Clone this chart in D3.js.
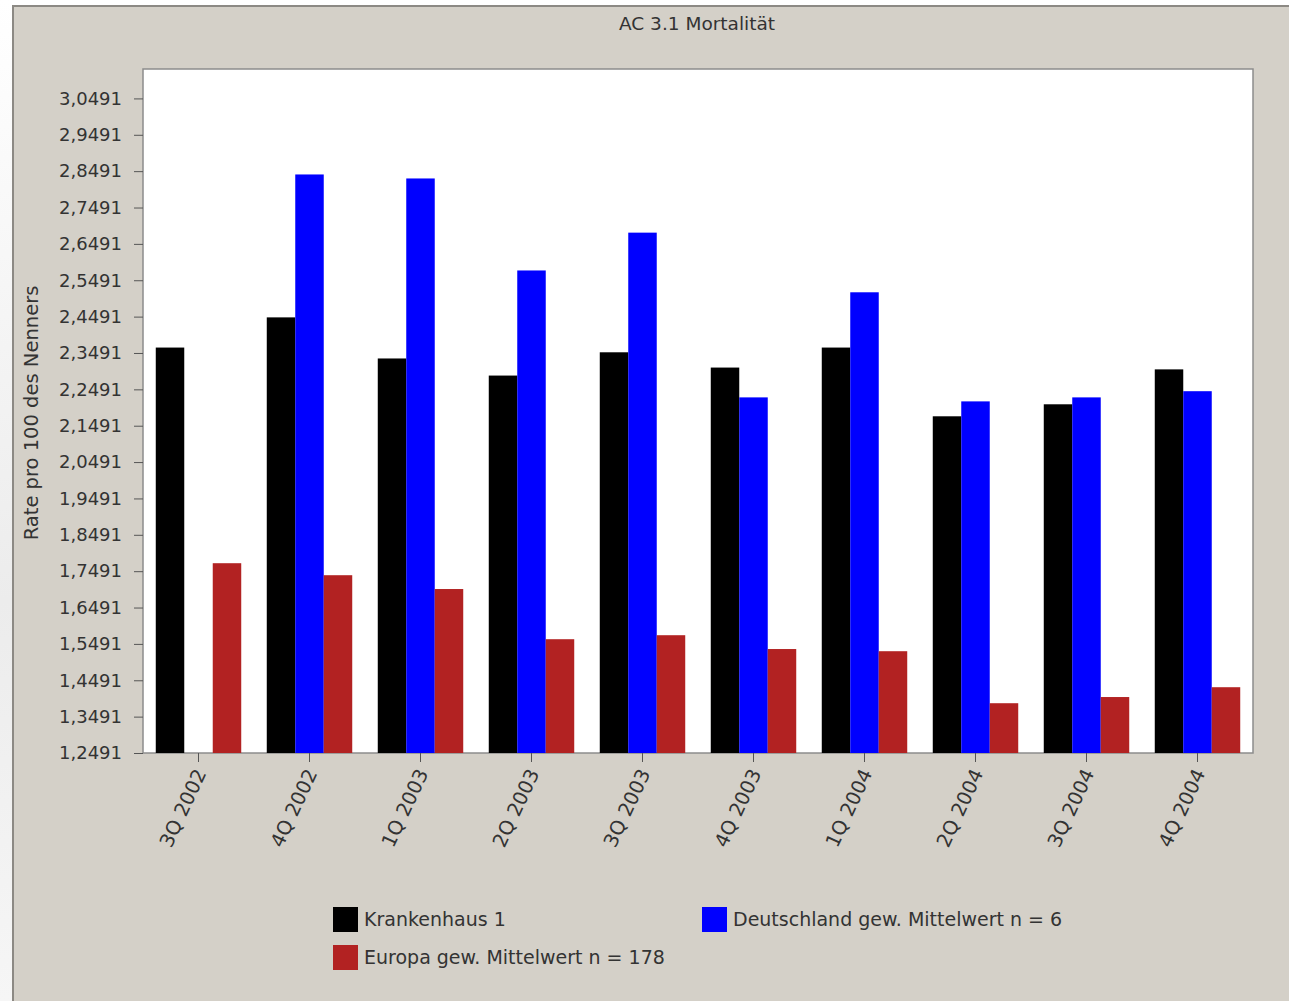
<!DOCTYPE html>
<html>
<head>
<meta charset="utf-8">
<script src="https://cdn.jsdelivr.net/npm/d3@7"></script>
<style>
  body { margin: 0; background: #fff; overflow: hidden; }
  svg { display: block; font-family: "DejaVu Sans", sans-serif; }
</style>
</head>
<body>
<svg id="chart" width="1289" height="1001"></svg>
<script>
// Quarters on the x axis
const quarters = ['3Q 2002', '4Q 2002', '1Q 2003', '2Q 2003', '3Q 2003',
                  '4Q 2003', '1Q 2004', '2Q 2004', '3Q 2004', '4Q 2004'];

// Series values (rate per 100)
const krankenhaus = [2.364, 2.447, 2.334, 2.287, 2.351, 2.309, 2.364, 2.175, 2.208, 2.304];
const deutschland = [null, 2.840, 2.829, 2.576, 2.680, 2.227, 2.516, 2.216, 2.227, 2.244];
const europa      = [1.771, 1.738, 1.700, 1.562, 1.573, 1.535, 1.529, 1.386, 1.403, 1.430];

const seriesNames = ['Krankenhaus 1', 'Deutschland gew. Mittelwert n = 6', 'Europa gew. Mittelwert n = 178'];
const seriesColors = ['#000000', '#0000ff', '#b22222'];

// y tick labels
const yTicks = [1.2491, 1.3491, 1.4491, 1.5491, 1.6491, 1.7491, 1.8491, 1.9491, 2.0491,
                2.1491, 2.2491, 2.3491, 2.4491, 2.5491, 2.6491, 2.7491, 2.8491, 2.9491, 3.0491];

const svg = d3.select('#chart');
const textColor = '#333';

// page strip on the left
const defs = svg.append('defs');
const grad = defs.append('linearGradient').attr('id', 'strip')
    .attr('x1', 0).attr('y1', 0).attr('x2', 0).attr('y2', 1);
grad.append('stop').attr('offset', '0%').attr('stop-color', '#ffffff');
grad.append('stop').attr('offset', '60%').attr('stop-color', '#ececec');
grad.append('stop').attr('offset', '100%').attr('stop-color', '#f6f6f6');
svg.append('rect').attr('x', 0).attr('y', 0).attr('width', 13).attr('height', 1001)
    .attr('fill', 'url(#strip)');

// gray panel
svg.append('rect')
    .attr('x', 13).attr('y', 6).attr('width', 1290).attr('height', 1010)
    .attr('fill', '#d4d0c8')
    .attr('stroke', '#8c8984').attr('stroke-width', 2);

const margin = { top: 69, right: 36, bottom: 248, left: 143 };
const width = 1289 - margin.left - margin.right;
const height = 1001 - margin.top - margin.bottom;

const g = svg.append('g').attr('transform', `translate(${margin.left},${margin.top})`);

// plot area
g.append('rect').attr('width', width).attr('height', height)
    .attr('fill', '#fff').attr('stroke', '#8c8c8c').attr('stroke-width', 1.5);

const x0 = d3.scaleBand().domain(quarters).range([0, width]).paddingInner(0.23).paddingOuter(0.115);
const x1 = d3.scaleBand().domain(d3.range(3)).range([0, x0.bandwidth()]);
const y = d3.scaleLinear().domain([1.2491, 3.13]).range([height, 0]);

const seriesData = [krankenhaus, deutschland, europa];

const groups = g.selectAll('.grp').data(quarters).enter().append('g')
    .attr('transform', d => `translate(${x0(d)},0)`);

groups.selectAll('rect')
    .data((q, i) => seriesData.map((s, k) => ({ k, v: s[i] })).filter(d => d.v != null))
    .enter().append('rect')
    .attr('x', d => x1(d.k))
    .attr('y', d => y(d.v))
    .attr('width', x1.bandwidth())
    .attr('height', d => height - y(d.v))
    .attr('fill', d => seriesColors[d.k]);

// y axis
const yAxis = g.append('g')
    .call(d3.axisLeft(y).tickValues(yTicks).tickSize(9).tickPadding(12)
        .tickFormat(d => d.toFixed(4).replace('.', ',')));
yAxis.select('.domain').remove();
yAxis.selectAll('line').attr('stroke', '#555');
yAxis.selectAll('text').attr('font-size', 18).attr('fill', textColor)
    .attr('font-family', '"DejaVu Sans", sans-serif');

// x axis
const xAxis = g.append('g').attr('transform', `translate(0,${height})`)
    .call(d3.axisBottom(x0).tickSize(9));
xAxis.select('.domain').remove();
xAxis.selectAll('line').attr('stroke', '#555');
xAxis.selectAll('text')
    .attr('font-size', 19.5).attr('fill', textColor)
    .attr('font-family', '"DejaVu Sans", sans-serif')
    .attr('text-anchor', 'end')
    .attr('x', 0).attr('y', 0).attr('dy', '0.35em')
    .attr('transform', 'translate(2,17) rotate(-65)');

// title
svg.append('text').attr('x', 697).attr('y', 30).attr('text-anchor', 'middle')
    .attr('font-size', 18.5).attr('fill', textColor).text('AC 3.1 Mortalität');

// y label
svg.append('text').attr('transform', `translate(38,${margin.top + height / 2 + 2}) rotate(-90)`)
    .attr('text-anchor', 'middle').attr('font-size', 19.5).attr('fill', textColor)
    .text('Rate pro 100 des Nenners');

// legend
const legendPos = [[333, 907], [702, 907], [333, 945]];
const leg = svg.selectAll('.leg').data(seriesNames).enter().append('g')
    .attr('transform', (d, i) => `translate(${legendPos[i][0]},${legendPos[i][1]})`);
leg.append('rect').attr('width', 25).attr('height', 25)
    .attr('fill', (d, i) => seriesColors[i]);
leg.append('text').attr('x', 31).attr('y', 19).attr('font-size', 19).attr('fill', textColor)
    .text(d => d);
</script>
</body>
</html>
